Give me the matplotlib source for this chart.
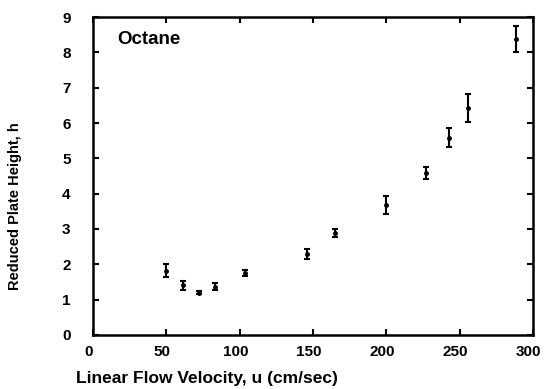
import matplotlib
matplotlib.use("Agg")
import matplotlib.pyplot as plt
from matplotlib.transforms import ScaledTranslation

u = [50, 61.6, 72.3, 83.2, 104, 146, 165, 199.7, 226.8, 243, 256, 288.4]
h = [1.82, 1.40, 1.20, 1.37, 1.76, 2.29, 2.89, 3.68, 4.59, 5.58, 6.43, 8.38]
herr = [0.19, 0.12, 0.03, 0.09, 0.09, 0.13, 0.11, 0.25, 0.17, 0.27, 0.39, 0.38]
xticks = [0, 50, 100, 150, 200, 250, 300]
yticks = [0, 1, 2, 3, 4, 5, 6, 7, 8, 9]

plt.rcParams['font.family'] = ['Liberation Sans', 'DejaVu Sans']
plt.rcParams['font.weight'] = 'bold'

fig = plt.figure(figsize=(5.46, 3.89), dpi=100)
ax = fig.add_axes([0.170, 0.139, 0.806, 0.817])
ax.errorbar(u, h, yerr=herr, fmt='o', color='black', ms=2.5, elinewidth=1.5,
            capsize=2.5, capthick=1.5)
ax.set_xlim(0, 300)
ax.set_ylim(0, 9)
ax.set_xticks(xticks)
ax.set_yticks(yticks)
ax.tick_params(direction='in', length=4, width=1.5, top=True, right=True,
               labelsize=11)
ax.tick_params(axis='y', pad=16)
ax.tick_params(axis='x', pad=7.5)
for lab in ax.get_xticklabels() + ax.get_yticklabels():
    lab.set_fontweight('bold')
for lab in ax.get_xticklabels():
    lab.set_transform(lab.get_transform() + ScaledTranslation(-4/100, 0, fig.dpi_scale_trans))
for s in ax.spines.values():
    s.set_linewidth(1.8)
ax.set_xlabel('Linear Flow Velocity, u (cm/sec)', fontsize=12.5, fontweight='bold')
ax.xaxis.label.set_ha('left')
ax.xaxis.set_label_coords(-0.038, -0.115)
ax.set_ylabel('Reduced Plate Height, h', fontsize=10.5, fontweight='bold')
ax.yaxis.set_label_coords(-0.160, 0.405)
ax.text(0.0545, 0.928, 'Octane', transform=ax.transAxes, fontsize=13.5,
        fontweight='bold', va='center', ha='left')
fig.savefig('out.png', dpi=100)
